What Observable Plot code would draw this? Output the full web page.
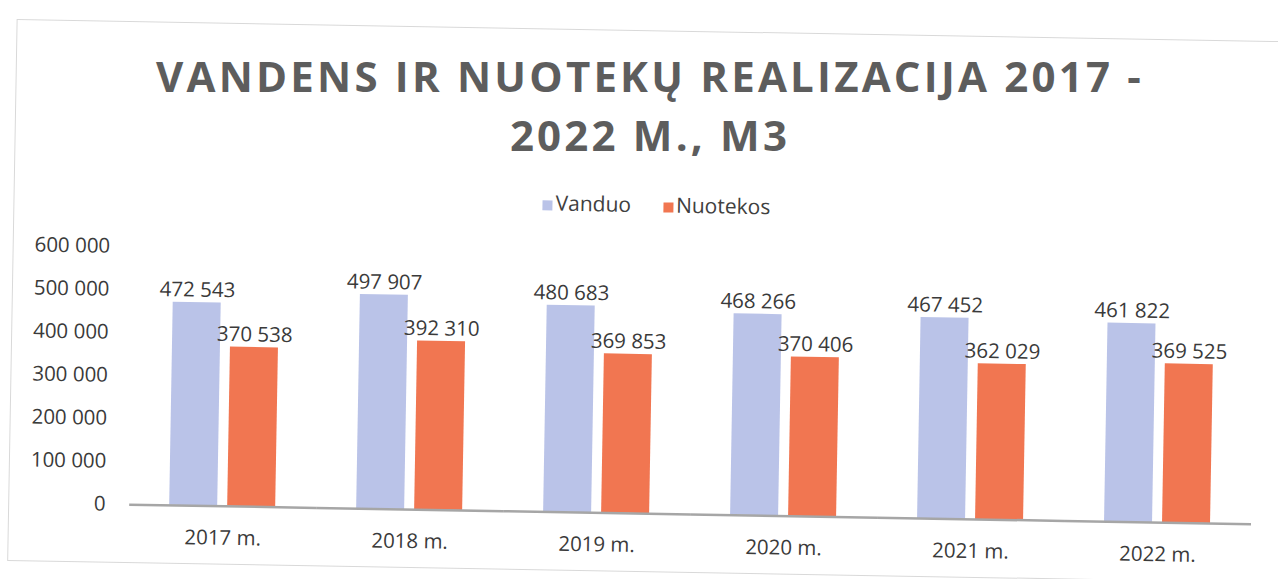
<!DOCTYPE html>
<html>
<head>
<meta charset="utf-8">
<script src="https://cdn.jsdelivr.net/npm/d3@7"></script>
<script src="https://cdn.jsdelivr.net/npm/@observablehq/plot@0.6"></script>
<style>
  html, body { margin: 0; padding: 0; background: #ffffff; overflow: hidden; }
  #wrap { position: relative; width: 1278px; height: 579px; }
  #page { position: absolute; left: 0; top: 0; width: 1278px; height: 579px; transform: rotate(1deg); transform-origin: 639px 290px; font-family: "Open Sans", sans-serif; }
  #frame { position: absolute; left: 12px; top: 30px; width: 1300px; height: 542px; border: 1px solid #d9d9d9; box-sizing: border-box; }
  .title { position: absolute; left: 0; right: -22px; margin: 0 auto; width: fit-content; white-space: nowrap; font-family: "Open Sans", sans-serif; font-size: 42px; line-height: 36px; font-weight: 700; color: #5d5d5d; letter-spacing: 3.2px; }
  #t1 { top: 58px; }
  #t2 { top: 117px; }
  #legend { position: absolute; left: 0; right: -32px; margin: 0 auto; width: fit-content; white-space: nowrap; top: 191px; font-size: 21px; line-height: 26px; color: #404040; }
  #legend span.item { margin: 0 16px; }
  #legend span.sw { display: inline-block; width: 10px; height: 10px; margin-right: 3px; }
  #chart { position: absolute; left: 0; top: 230px; }
</style>
</head>
<body>
<div id="wrap">
  <div id="page">
    <div id="frame"></div>
    <div id="legend"></div>
    <div id="chart"></div>
  </div>
  <div class="title" id="t1">VANDENS IR NUOTEKŲ REALIZACIJA 2017 -</div>
  <div class="title" id="t2">2022 M., M3</div>
</div>
<script>
const years = ["2017", "2018", "2019", "2020", "2021", "2022"];
const series = ["Vanduo", "Nuotekos"];
const vanduo = [472543, 497907, 480683, 468266, 467452, 461822];
const nuotekos = [370538, 392310, 369853, 370406, 362029, 369525];
const yTicks = [0, 100000, 200000, 300000, 400000, 500000, 600000];
const colors = ["#bac3e8", "#f17651"];

const data = years.flatMap((y, i) => [
  {year: y, series: series[0], value: vanduo[i]},
  {year: y, series: series[1], value: nuotekos[i]}
]);

const fmt = v => d3.format(",")(v).replace(/,/g, " ");

const legend = document.getElementById("legend");
legend.innerHTML = series.map((s, i) =>
  `<span class="item"><span class="sw" style="background:${colors[i]}"></span>${s}</span>`).join("");

const chart = Plot.plot({
  width: 1278,
  height: 330,
  marginLeft: 131,
  marginRight: 21,
  marginTop: 25,
  marginBottom: 47,
  style: {fontFamily: "Open Sans, sans-serif", fontSize: "20.5px", color: "#3a3a3a", background: "transparent", overflow: "visible"},
  fx: {domain: years, padding: 0, axis: "bottom", label: null, tickSize: 0, tickPadding: 24, tickFormat: d => d + " m."},
  x: {domain: series, paddingInner: 0.17, paddingOuter: 0.68, axis: null},
  y: {domain: [0, 600000], ticks: yTicks, tickSize: 0, tickPadding: 24, tickFormat: fmt, label: null},
  color: {domain: series, range: colors},
  marks: [
    Plot.barY(data, {fx: "year", x: "series", y: "value", fill: "series"}),
    Plot.ruleY([0], {stroke: "#a6a6a6", strokeWidth: 2.5}),
    Plot.text(data, {fx: "year", x: "series", y: "value", text: d => fmt(d.value), lineAnchor: "bottom", dy: -6, fill: "#3a3a3a"})
  ]
});
document.getElementById("chart").appendChild(chart);
</script>
</body>
</html>
